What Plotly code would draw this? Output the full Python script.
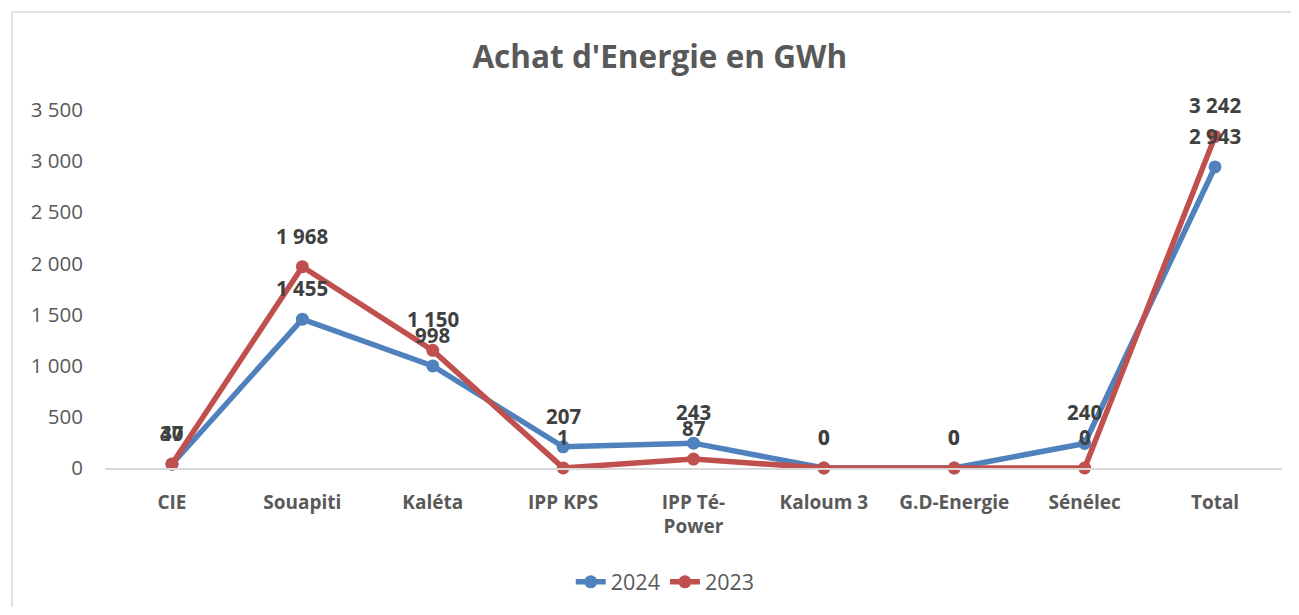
import plotly.graph_objects as go

categories = ["CIE", "Souapiti", "Kaléta", "IPP KPS", "IPP Té-<br>Power", "Kaloum 3", "G.D-Energie", "Sénélec", "Total"]
values_2024 = [37, 1455, 998, 207, 243, 0, 0, 240, 2943]
values_2023 = [40, 1968, 1150, 1, 87, 0, 0, 0, 3242]
y_ticks = [0, 500, 1000, 1500, 2000, 2500, 3000, 3500]

BLUE = "#4F81BD"
RED = "#C0504D"
FONT = "'Open Sans', sans-serif"


def fmt(v):
    return f"{v:,}".replace(",", " ")


fig = go.Figure()
for name, vals, col in [("2024", values_2024, BLUE), ("2023", values_2023, RED)]:
    fig.add_trace(go.Scatter(
        x=categories, y=vals, name=name, mode="lines+markers",
        line=dict(color=col, width=5.5),
        marker=dict(color=col, size=13),
        cliponaxis=False,
    ))

annotations = []
for vals in (values_2024, values_2023):
    for c, v in zip(categories, vals):
        annotations.append(dict(
            x=c, y=v, xref="x", yref="y", text=fmt(v), showarrow=False,
            yshift=31, font=dict(family=FONT, size=20.5, color="#404040", weight="bold"),
        ))

fig.update_layout(
    width=1283, height=599,
    margin=dict(l=97, r=9, t=102, b=139, autoexpand=False),
    paper_bgcolor="white", plot_bgcolor="white",
    font=dict(family=FONT, color="#595959"),
    title=dict(text="<b>Achat d'Energie en GWh</b>", x=0.508, xanchor="center",
               y=0.918, yanchor="middle", font=dict(size=31.5, color="#595959")),
    showlegend=True,
    legend=dict(orientation="h", x=0.476, xanchor="center", y=-0.318, yanchor="middle",
                font=dict(size=21.5, color="#595959")),
    annotations=annotations,
    shapes=[dict(type="rect", xref="paper", yref="paper", x0=-0.079, x1=1.1,
                 y0=-0.6, y1=1.274, line=dict(color="#D9D9D9", width=1.5), layer="below")],
)
fig.update_xaxes(
    showgrid=False, showline=True, linecolor="#D9D9D9", linewidth=1.5,
    tickfont=dict(size=19, color="#595959", weight="bold"), ticks="",
    ticklabelstandoff=16,
)
fig.update_yaxes(
    range=[0, 3500], showgrid=False, zeroline=False, showline=False,
    tickvals=y_ticks, ticktext=[fmt(t) for t in y_ticks],
    tickfont=dict(size=20.5, color="#595959"), ticklabelstandoff=21,
)
fig.write_html("out.html")
